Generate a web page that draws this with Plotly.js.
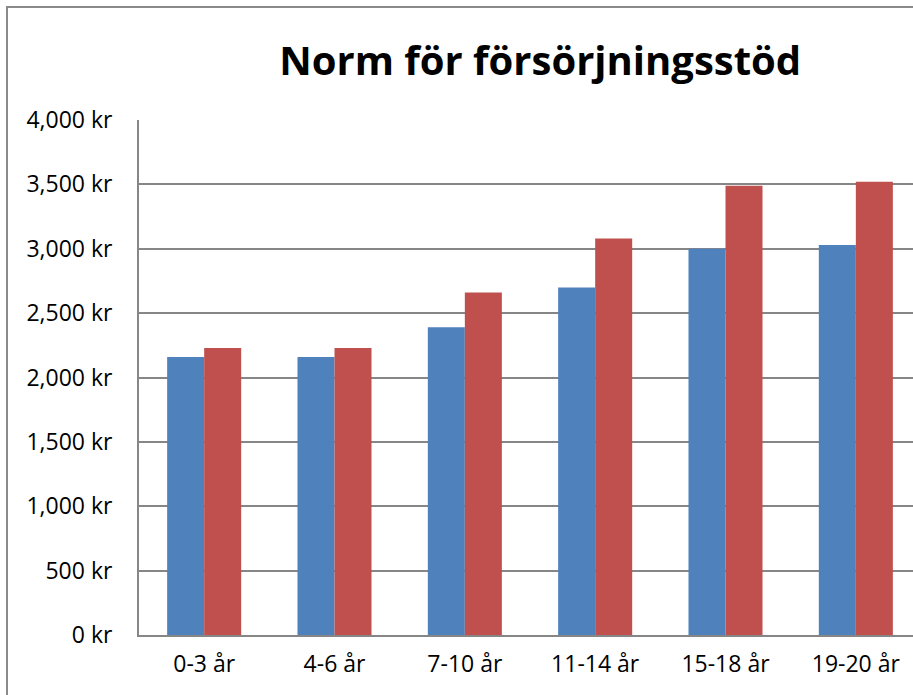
<!DOCTYPE html>
<html>
<head>
<meta charset="utf-8">
<script src="https://cdn.plot.ly/plotly-3.0.1.min.js"></script>
<style>
  html, body { margin:0; padding:0; width:913px; height:695px; overflow:hidden; background:#fff; }
  #frame { position:absolute; left:6px; top:6px; width:1000px; height:800px; border:2px solid #8a8a8a; box-sizing:border-box; }
  #chart { position:absolute; left:0; top:0; width:925px; height:695px; }
</style>
</head>
<body>
<div id="frame"></div>
<div id="chart"></div>
<script>
const categories = ["0-3 år", "4-6 år", "7-10 år", "11-14 år", "15-18 år", "19-20 år"];
const seriesBlue = [2160, 2160, 2390, 2700, 3000, 3030];
const seriesRed  = [2230, 2230, 2660, 3080, 3490, 3520];
const chartTitle = "Norm för försörjningsstöd";

const FONT = "Open Sans, Lato, sans-serif";

const traces = [
  { type: "bar", x: categories, y: seriesBlue, name: "Serie 1",
    marker: { color: "#4F81BD", line: { width: 0 } }, hoverinfo: "none" },
  { type: "bar", x: categories, y: seriesRed, name: "Serie 2",
    marker: { color: "#C0504D", line: { width: 0 } }, hoverinfo: "none" }
];

const layout = {
  width: 925, height: 695,
  margin: { l: 139, r: 4, t: 120, b: 60 },
  paper_bgcolor: "rgba(0,0,0,0)",
  plot_bgcolor: "rgba(0,0,0,0)",
  showlegend: false,
  barmode: "group",
  bargap: 0.432,
  bargroupgap: 0,
  title: {
    text: "<b>" + chartTitle + "</b>",
    font: { family: FONT, size: 40, color: "#000" },
    xref: "paper", x: 0.513, xanchor: "center",
    yref: "container", y: 1 - 61/695, yanchor: "middle"
  },
  xaxis: {
    type: "category",
    showgrid: false,
    showline: true, linecolor: "#868686", linewidth: 2,
    ticks: "",
    tickfont: { family: FONT, size: 23, color: "#000" },
    ticklabelstandoff: 7,
    fixedrange: true
  },
  yaxis: {
    range: [0, 4000],
    dtick: 500, tick0: 0,
    tickformat: ",d",
    ticksuffix: " kr",
    showgrid: true, gridcolor: "#868686", gridwidth: 2,
    showline: true, linecolor: "#868686", linewidth: 2,
    zeroline: false,
    ticks: "",
    tickfont: { family: FONT, size: 23, color: "#000" },
    ticklabelstandoff: 20,
    fixedrange: true
  }
};

Plotly.newPlot("chart", traces, layout, { staticPlot: true, displayModeBar: false });
</script>
</body>
</html>
